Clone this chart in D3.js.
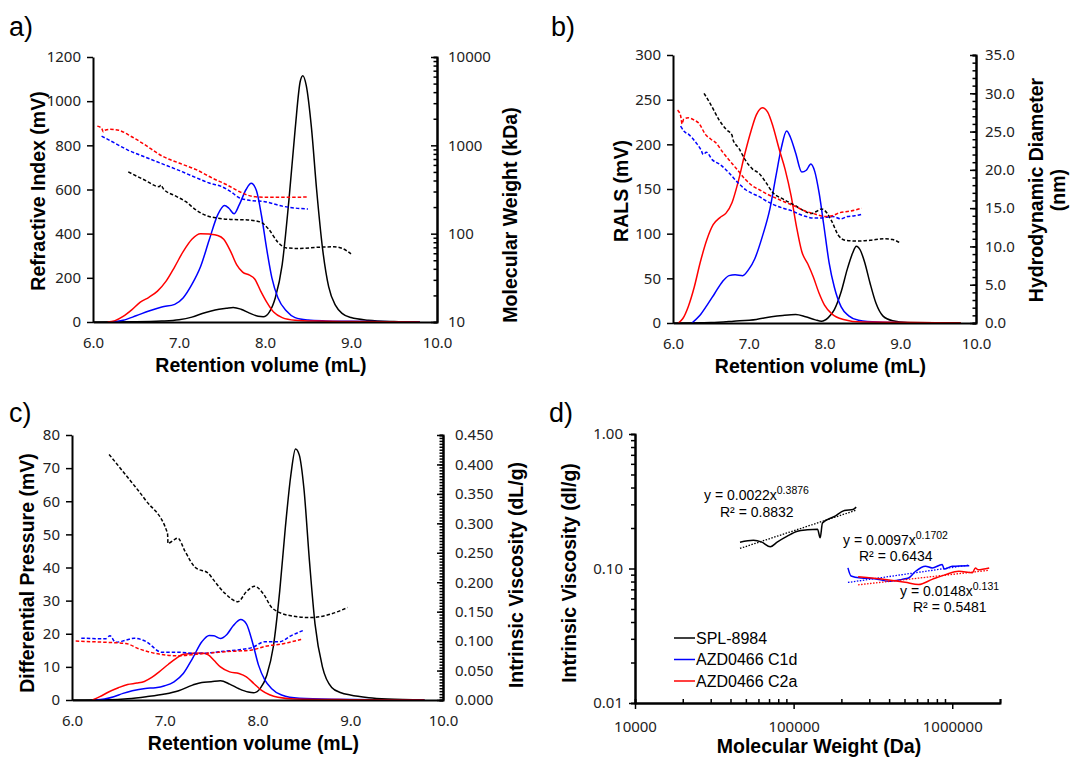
<!DOCTYPE html>
<html>
<head>
<meta charset="utf-8">
<script src="https://cdn.jsdelivr.net/npm/d3@7"></script>
<style>
  body { margin: 0; background: #fff; }
  .tick text { font-family: "Noto Sans", sans-serif; font-size: 15px; fill: #222; }
  .title { font-family: "Liberation Sans", Arial, sans-serif; font-weight: bold; font-size: 19.5px; fill: #000; }
  .plabel { font-family: "Liberation Sans", Arial, sans-serif; font-size: 27px; fill: #000; }
  .leg { font-family: "Liberation Sans", Arial, sans-serif; font-size: 16px; fill: #000; }
  .eq { font-family: "Liberation Sans", Arial, sans-serif; font-size: 14px; fill: #000; }
</style>
</head>
<body>
<div id="main"></div>
<script>
// ---- data ----
const seriesNames = ['SPL-8984', 'AZD0466 C1d', 'AZD0466 C2a'];
const seriesColors = ['#000000', '#0000ff', '#ff0000'];

// a) refractive index (mV) vs retention volume (mL)
const riSPL = [[6.0,0],[6.5,1],[6.8,4],[7.0,10],[7.15,22],[7.3,42],[7.42,54],[7.55,62],[7.63,66],[7.72,58],[7.82,40],[7.92,26],[7.98,24],[8.05,45],[8.12,110],[8.2,260],[8.28,560],[8.35,870],[8.41,1090],[8.44,1115],[8.48,1070],[8.54,880],[8.6,600],[8.67,330],[8.74,160],[8.82,75],[8.9,38],[9.0,20],[9.2,8],[9.5,2],[9.8,0]];
const riC1d = [[6.2,0],[6.35,8],[6.5,28],[6.65,50],[6.8,68],[6.95,80],[7.05,110],[7.15,170],[7.25,250],[7.35,370],[7.45,485],[7.53,527],[7.58,515],[7.64,490],[7.7,530],[7.78,600],[7.84,628],[7.9,595],[7.96,480],[8.02,330],[8.08,200],[8.15,110],[8.25,50],[8.35,20],[8.5,9],[8.7,5],[9.0,3],[9.5,1],[9.8,0]];
const riC2a = [[6.17,0],[6.25,5],[6.35,25],[6.45,55],[6.55,90],[6.65,112],[6.75,140],[6.85,185],[6.95,250],[7.05,320],[7.15,375],[7.25,400],[7.35,398],[7.45,392],[7.52,375],[7.6,320],[7.67,260],[7.74,226],[7.82,212],[7.88,195],[7.95,140],[8.02,90],[8.1,45],[8.2,20],[8.35,8],[8.6,4],[9.0,2],[9.8,0]];
// a) molecular weight (kDa)
const mwSPL = [[6.41,500],[6.6,405],[6.77,340],[6.79,355],[6.82,320],[6.95,270],[7.08,230],[7.2,185],[7.32,160],[7.45,150],[7.6,145],[7.8,143],[7.95,135],[8.05,110],[8.15,80],[8.25,69],[8.4,68],[8.6,70],[8.8,71],[8.9,68],[9.0,59]];
const mwC1d = [[6.1,1270],[6.2,1130],[6.4,890],[6.6,740],[6.8,620],[7.0,520],[7.2,430],[7.35,375],[7.5,340],[7.6,300],[7.7,255],[7.8,240],[8.0,230],[8.2,205],[8.35,195],[8.5,190]];
const mwC2a = [[6.05,1650],[6.1,1560],[6.12,1420],[6.14,1480],[6.2,1520],[6.3,1480],[6.45,1250],[6.6,1020],[6.8,760],[7.0,630],[7.2,530],[7.4,420],[7.55,360],[7.7,300],[7.85,265],[8.0,258],[8.2,258],[8.5,260]];

// b) RALS (mV)
const ralsSPL = [[6.0,0],[6.5,0.5],[6.8,2],[7.1,4],[7.3,7],[7.45,8.5],[7.62,9.5],[7.75,7],[7.88,3.5],[7.96,2],[8.05,6],[8.13,15],[8.22,35],[8.3,60],[8.37,78],[8.42,86],[8.47,82],[8.53,68],[8.6,45],[8.68,22],[8.77,8],[8.9,2.5],[9.1,0.5],[9.8,0]];
const ralsC1d = [[6.25,0],[6.35,8],[6.45,20],[6.55,33],[6.65,46],[6.74,53],[6.82,54],[6.92,53],[7.0,60],[7.08,72],[7.18,97],[7.28,128],[7.36,165],[7.43,196],[7.5,215],[7.55,208],[7.62,190],[7.7,169],[7.76,171],[7.82,178],[7.87,170],[7.93,145],[7.99,110],[8.06,68],[8.13,40],[8.22,18],[8.32,8],[8.45,3],[8.7,1],[9.5,0]];
const ralsC2a = [[6.07,0],[6.13,5],[6.2,18],[6.28,40],[6.36,68],[6.45,94],[6.53,110],[6.62,118],[6.7,123],[6.78,135],[6.86,158],[6.95,190],[7.03,215],[7.1,233],[7.18,241],[7.25,236],[7.32,220],[7.4,195],[7.48,172],[7.56,142],[7.63,108],[7.7,80],[7.78,66],[7.85,52],[7.93,33],[8.0,20],[8.1,10],[8.25,4],[8.5,1],[9.8,0]];
// b) hydrodynamic diameter (nm)
const dhSPL = [[6.41,30.0],[6.5,28.5],[6.61,26.5],[6.7,25.3],[6.78,24.5],[6.79,24.0],[6.87,22.8],[6.96,21.2],[7.05,20.1],[7.14,19.5],[7.23,18.3],[7.32,17.0],[7.45,16.2],[7.6,15.4],[7.72,14.7],[7.82,14.3],[7.9,14.6],[7.96,14.9],[8.03,14.4],[8.1,13.2],[8.18,11.5],[8.28,10.8],[8.45,10.7],[8.6,10.8],[8.8,11.0],[8.9,10.9],[8.99,10.5]];
const dhC1d = [[6.1,25.7],[6.15,25.0],[6.21,24.6],[6.3,23.6],[6.37,22.6],[6.4,22.0],[6.44,22.3],[6.52,21.3],[6.62,20.7],[6.74,19.6],[6.85,18.4],[6.96,17.4],[7.05,16.9],[7.14,16.5],[7.22,16.0],[7.32,15.5],[7.45,15.0],[7.58,14.6],[7.67,14.2],[7.76,13.9],[7.85,13.7],[7.93,13.7],[8.02,13.8],[8.11,13.9],[8.22,13.6],[8.3,13.9],[8.4,14.0],[8.49,14.2]];
const dhC2a = [[6.06,27.8],[6.1,27.1],[6.12,26.0],[6.14,26.6],[6.2,26.8],[6.28,26.5],[6.34,26.1],[6.43,24.6],[6.5,24.0],[6.57,23.5],[6.65,22.4],[6.74,21.3],[6.85,20.0],[6.96,18.7],[7.05,17.9],[7.14,17.4],[7.25,16.8],[7.36,16.3],[7.5,15.7],[7.62,15.2],[7.75,14.6],[7.85,14.3],[7.95,14.0],[8.03,13.9],[8.1,14.0],[8.2,14.4],[8.33,14.6],[8.42,14.8],[8.49,15.0]];

// c) differential pressure (mV)
const dpSPL = [[6.0,0],[6.4,0.1],[6.6,0.4],[6.8,1],[7.0,1.8],[7.15,2.8],[7.3,4.5],[7.4,5.3],[7.5,5.5],[7.6,5.8],[7.7,4.8],[7.8,3.4],[7.9,2.4],[7.96,2.2],[8.03,3.5],[8.1,7.5],[8.17,16],[8.24,33],[8.3,52],[8.36,68],[8.41,75.8],[8.45,74],[8.5,64],[8.56,42],[8.62,23],[8.7,10],[8.8,3.8],[8.9,2.2],[9.0,1.5],[9.2,0.7],[9.4,0.3],[9.8,0]];
const dpC1d = [[6.25,0],[6.35,0.3],[6.45,1],[6.55,2],[6.65,2.8],[6.79,3.5],[6.9,3.7],[7.0,4.3],[7.1,5.5],[7.2,8],[7.3,12.6],[7.4,17.6],[7.48,19.5],[7.53,19.4],[7.6,18.6],[7.67,19.8],[7.74,22.5],[7.82,24.3],[7.88,23],[7.95,17],[8.01,10.6],[8.08,6],[8.15,3.5],[8.26,1.5],[8.45,0.5],[8.8,0.2],[9.8,0]];
const dpC2a = [[6.22,0],[6.3,1],[6.4,2.5],[6.5,3.7],[6.6,4.7],[6.7,5.1],[6.78,5.6],[6.86,6.8],[6.94,8.5],[7.04,10.8],[7.12,12.5],[7.2,13.8],[7.3,14.1],[7.4,14.2],[7.47,13.6],[7.53,12],[7.6,10],[7.7,8.5],[7.8,8.0],[7.88,7],[7.96,5],[8.04,3],[8.13,1.6],[8.22,0.8],[8.4,0.3],[9.0,0.1],[9.8,0]];
// c) intrinsic viscosity (dL/g)
const ivSPL = [[6.4,0.417],[6.58,0.382],[6.79,0.340],[7.03,0.283],[7.035,0.266],[7.1,0.272],[7.14,0.275],[7.22,0.252],[7.33,0.225],[7.47,0.215],[7.54,0.201],[7.65,0.181],[7.79,0.167],[7.88,0.184],[7.97,0.193],[8.06,0.181],[8.16,0.156],[8.36,0.143],[8.58,0.140],[8.79,0.146],[8.97,0.157]];
const ivC1d = [[6.1,0.105],[6.36,0.104],[6.41,0.109],[6.47,0.098],[6.57,0.101],[6.67,0.105],[6.79,0.100],[6.97,0.081],[7.15,0.081],[7.36,0.079],[7.65,0.083],[7.94,0.089],[8.08,0.099],[8.24,0.099],[8.36,0.109],[8.49,0.118]];
const ivC2a = [[6.04,0.100],[6.36,0.098],[6.58,0.096],[6.72,0.087],[6.94,0.078],[7.15,0.075],[7.36,0.078],[7.65,0.082],[7.94,0.085],[8.08,0.091],[8.29,0.096],[8.47,0.103]];

// d) Mark-Houwink: intrinsic viscosity (dl/g) vs molecular weight (Da)
const mhSPL = [[45900,0.157],[55800,0.162],[63000,0.157],[71300,0.145],[78700,0.157],[91200,0.174],[105500,0.189],[122000,0.194],[141500,0.196],[147000,0.169],[152000,0.218],[181000,0.244],[209000,0.270],[237000,0.275],[248000,0.286]];
const mhC1d = [[220000,0.101],[230000,0.088],[267000,0.085],[325000,0.084],[395000,0.0805],[481000,0.083],[530000,0.085],[585000,0.095],[678000,0.104],[747000,0.101],[864000,0.107],[890000,0.099],[1000000,0.104],[1280000,0.105]];
const mhC2a = [[255000,0.0868],[377000,0.083],[505000,0.079],[614000,0.076],[747000,0.083],[906000,0.090],[1100000,0.0955],[1340000,0.093],[1400000,0.101],[1450000,0.098],[1710000,0.101]];
// power-law fits y = a * x^b shown on the chart
const fitA = [0.0022, 0.0097, 0.0148];
const fitB = [0.3876, 0.1702, 0.131];
const fitR2 = ['0.8832', '0.6434', '0.5481'];

const svg = d3.select('#main').append('svg')
    .attr('width', 1070)
    .attr('height', 759);

function addLine(g, data, x, y, color, dashed) {
    const line = d3.line()
        .x(d => x(d[0]))
        .y(d => y(d[1]))
        .curve(d3.curveMonotoneX);
    g.append('path')
        .datum(data)
        .attr('d', line)
        .attr('fill', 'none')
        .attr('stroke', color)
        .attr('stroke-width', 1.5)
        .attr('stroke-dasharray', dashed ? '3.5,2' : null);
}

function styleAxis(sel) {
    sel.select('.domain').attr('stroke', '#000').attr('stroke-width', 2);
    sel.selectAll('.tick line').attr('stroke', '#000').attr('stroke-width', 1.5);
}

function yTitle(x, y, txt) {
    svg.append('text').attr('class', 'title')
        .attr('transform', 'translate(' + x + ',' + y + ') rotate(-90)')
        .attr('text-anchor', 'middle')
        .attr('dy', '0.35em')
        .text(txt);
}

/*
  a, b, c share the same layout: retention volume on x, linear left axis, right axis
*/
function retentionPanel(p) {
    const x = d3.scaleLinear().domain([6, 10]).range([p.left, p.right]);
    const y = d3.scaleLinear().domain([0, p.yMax]).range([p.bottom, p.top]);
    const y2 = p.logRight
        ? d3.scaleLog().domain([10, 10000]).range([p.bottom, p.top])
        : d3.scaleLinear().domain([0, p.y2Max]).range([p.bottom, p.top]);

    const g = svg.append('g');

    // right axis: minor ticks then majors with labels
    g.append('g')
        .attr('transform', 'translate(' + p.right + ',0)')
        .call(d3.axisRight(y2).tickValues(p.y2Minor).tickSize(-3.5).tickFormat(''))
        .call(styleAxis);
    g.append('g')
        .attr('transform', 'translate(' + p.right + ',0)')
        .call(d3.axisRight(y2).tickValues(p.y2Ticks).tickSize(-6).tickSizeOuter(0).tickPadding(p.padR).tickFormat(p.y2Format))
        .call(styleAxis);

    // left axis
    g.append('g')
        .attr('transform', 'translate(' + p.left + ',0)')
        .call(d3.axisLeft(y).tickValues(p.yTicks).tickSize(6).tickSizeOuter(0).tickPadding(6).tickFormat(d3.format('d')))
        .call(styleAxis);

    // curves: solid detector signal, dashed derived property
    p.solid.forEach((s, i) => addLine(g, s, x, y, seriesColors[i], false));
    p.dashed.forEach((s, i) => addLine(g, s, x, y2, seriesColors[i], true));

    // bottom axis
    g.append('g')
        .attr('transform', 'translate(0,' + p.bottom + ')')
        .call(d3.axisBottom(x).tickValues([6, 7, 8, 9, 10]).tickSize(0).tickPadding(15).tickFormat(d3.format('.1f')))
        .call(styleAxis);

    svg.append('text').attr('class', 'title')
        .attr('x', (p.left + p.right) / 2 - 4).attr('y', p.bottom + 50)
        .attr('text-anchor', 'middle')
        .text('Retention volume (mL)');
}

const mwMinor = [];
[10, 100, 1000].forEach(d => { for (let k = 2; k <= 9; k++) mwMinor.push(d * k); });

retentionPanel({
    left: 93, right: 437, top: 57, bottom: 322,
    yMax: 1200, yTicks: d3.range(0, 1201, 200),
    logRight: true, y2Ticks: [10, 100, 1000, 10000], y2Minor: mwMinor, y2Format: d3.format('d'), padR: 11,
    solid: [riSPL, riC1d, riC2a], dashed: [mwSPL, mwC1d, mwC2a]
});
yTitle(38, 191, 'Refractive Index (mV)');
yTitle(510, 215, 'Molecular Weight (kDa)');

retentionPanel({
    left: 673, right: 976, top: 55, bottom: 323,
    yMax: 300, yTicks: d3.range(0, 301, 50),
    logRight: false, y2Max: 35, y2Ticks: d3.range(0, 36, 5), y2Minor: d3.range(0, 36, 1), y2Format: d3.format('.1f'), padR: 9,
    solid: [ralsSPL, ralsC1d, ralsC2a], dashed: [dhSPL, dhC1d, dhC2a]
});
yTitle(621, 191, 'RALS (mV)');
yTitle(1036, 190, 'Hydrodynamic Diameter');
yTitle(1058, 190, '(nm)');

retentionPanel({
    left: 72, right: 443, top: 435, bottom: 700,
    yMax: 80, yTicks: d3.range(0, 81, 10),
    logRight: false, y2Max: 0.45, y2Ticks: d3.range(0, 0.4501, 0.05), y2Minor: d3.range(0, 0.4501, 0.005), y2Format: d3.format('.3f'), padR: 12,
    solid: [dpSPL, dpC1d, dpC2a], dashed: [ivSPL, ivC1d, ivC2a]
});
yTitle(27, 573, 'Differential Pressure (mV)');
yTitle(516, 575, 'Intrinsic Viscosity  (dL/g)');

/*
  d) log-log Mark-Houwink plot
*/
const dx = d3.scaleLog().domain([1e4, 2e6]).range([635, 1000]);
const dy = d3.scaleLog().domain([0.01, 1]).range([703, 434]);
const gd = svg.append('g');

const xMinor = [], yMinor = [];
[1e4, 1e5, 1e6].forEach(d => { for (let k = 2; k <= 9; k++) if (d * k <= 2e6) xMinor.push(d * k); });
[0.01, 0.1].forEach(d => { for (let k = 2; k <= 9; k++) yMinor.push(d * k); });

gd.append('g').attr('transform', 'translate(635,0)')
    .call(d3.axisLeft(dy).tickValues(yMinor).tickSize(4).tickFormat(''))
    .call(styleAxis);
gd.append('g').attr('transform', 'translate(635,0)')
    .call(d3.axisLeft(dy).tickValues([0.01, 0.1, 1]).tickSize(6).tickSizeOuter(0).tickPadding(6).tickFormat(d3.format('.2f')))
    .call(styleAxis);
gd.append('g').attr('transform', 'translate(0,703)')
    .call(d3.axisBottom(dx).tickValues(xMinor).tickSize(-4).tickFormat(''))
    .call(styleAxis);
gd.append('g').attr('transform', 'translate(0,703)')
    .call(d3.axisBottom(dx).tickValues([1e4, 1e5, 1e6]).tickSize(6).tickSizeOuter(0).tickPadding(12).tickFormat(d3.format('d')))
    .call(styleAxis);

const mhData = [mhSPL, mhC1d, mhC2a];
mhData.forEach((s, i) => {
    addLine(gd, s, dx, dy, seriesColors[i], false);
    // trendline over the data range
    const ext = d3.extent(s, d => d[0]);
    const fit = ext.map(m => [m, fitA[i] * Math.pow(m, fitB[i])]);
    gd.append('path')
        .datum(fit)
        .attr('d', d3.line().x(d => dx(d[0])).y(d => dy(d[1])))
        .attr('fill', 'none')
        .attr('stroke', seriesColors[i])
        .attr('stroke-width', 1.3)
        .attr('stroke-dasharray', '1.5,1.5');
});

// equation labels
const eqPos = [[704, 500, 720, 517], [843, 545, 859, 561], [900, 596, 913, 612]];
eqPos.forEach((p, i) => {
    const t = svg.append('text').attr('class', 'eq').attr('x', p[0]).attr('y', p[1]);
    t.append('tspan').text('y = ' + fitA[i] + 'x');
    t.append('tspan').attr('dy', -6).attr('font-size', '10.5px').text(fitB[i]);
    svg.append('text').attr('class', 'eq').attr('x', p[2]).attr('y', p[3])
        .text('R² = ' + fitR2[i]);
});

// legend
seriesNames.forEach((n, i) => {
    const yy = 638 + i * 21.5;
    svg.append('line').attr('x1', 674).attr('x2', 695).attr('y1', yy).attr('y2', yy)
        .attr('stroke', seriesColors[i]).attr('stroke-width', 1.5);
    svg.append('text').attr('class', 'leg').attr('x', 696).attr('y', yy + 5.5).text(n);
});

yTitle(569, 573, 'Intrinsic Viscosity (dl/g)');
svg.append('text').attr('class', 'title')
    .attr('x', 819).attr('y', 753).attr('text-anchor', 'middle')
    .text('Molecular Weight (Da)');

// panel letters
[['a)', 9, 36], ['b)', 551, 36], ['c)', 9, 422], ['d)', 549, 422]].forEach(p => {
    svg.append('text').attr('class', 'plabel').attr('x', p[1]).attr('y', p[2]).text(p[0]);
});
</script>
</body>
</html>
